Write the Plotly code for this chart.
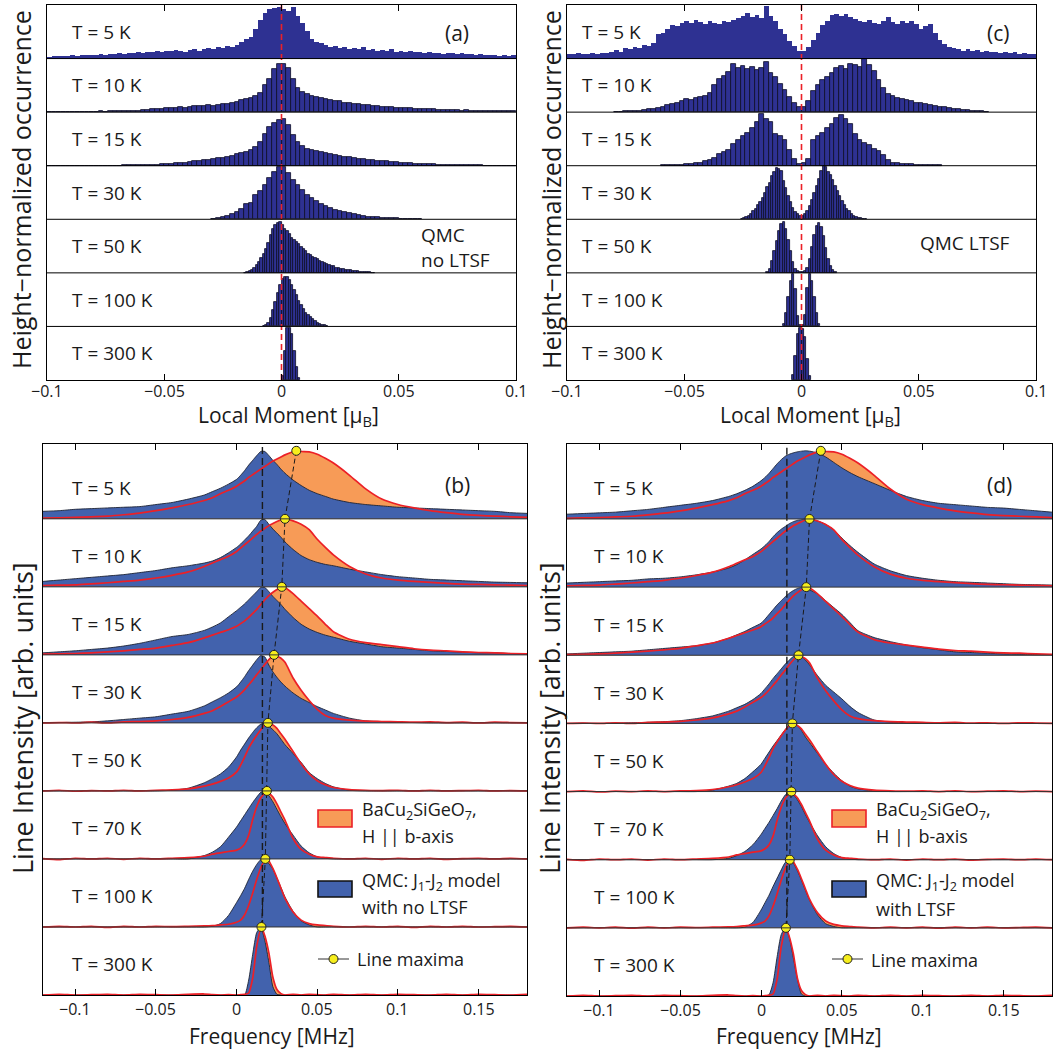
import plotly.graph_objects as go

FIG_W, FIG_H = 1061, 1053
FONT = "Open Sans"
TXT = "#1a1a1a"
NAVY = "#2e3192"
BAR_EDGE = "#0c0c26"
BLUE = "#4262ad"
BLUE_EDGE = "#1e2433"
ORANGE = "#f79b57"
RED = "#ec2027"
YELLOW = "#f6ee1d"

# ---------------- data ----------------
TOP_TEMPS = ["T = 5 K", "T = 10 K", "T = 15 K", "T = 30 K", "T = 50 K", "T = 100 K", "T = 300 K"]
BOT_TEMPS = ["T = 5 K", "T = 10 K", "T = 15 K", "T = 30 K", "T = 50 K", "T = 70 K", "T = 100 K", "T = 300 K"]
TOP_TICKS = [-0.1, -0.05, 0, 0.05, 0.1]
BOT_TICKS = [-0.1, -0.05, 0, 0.05, 0.1, 0.15]

# local-moment histograms, QMC without LTSF: first bin edge, bin width, heights
A_START = [-0.1, -0.1, -0.1, -0.03, -0.016, -0.008, 0.0]
A_WIDTH = [0.002, 0.002, 0.002, 0.002, 0.001, 0.001, 0.001]
a_5K = [0.03, 0.04, 0.05, 0.04, 0.05, 0.06, 0.05, 0.06, 0.07, 0.06,
        0.07, 0.08, 0.07, 0.09, 0.08, 0.10, 0.09, 0.11, 0.10, 0.12,
        0.11, 0.13, 0.12, 0.14, 0.13, 0.15, 0.14, 0.16, 0.15, 0.13,
        0.16, 0.18, 0.15, 0.17, 0.20, 0.18, 0.21, 0.19, 0.24, 0.22,
        0.26, 0.31, 0.37, 0.40, 0.56, 0.72, 0.85, 0.92, 0.94, 0.97,
        0.93, 0.88, 0.96, 0.80, 0.66, 0.52, 0.36, 0.31, 0.29, 0.25,
        0.22, 0.24, 0.19, 0.21, 0.18, 0.20, 0.17, 0.22, 0.16, 0.18,
        0.15, 0.16, 0.14, 0.17, 0.13, 0.14, 0.12, 0.15, 0.13, 0.12,
        0.11, 0.12, 0.10, 0.11, 0.09, 0.10, 0.11, 0.09, 0.10, 0.08,
        0.09, 0.07, 0.08, 0.06, 0.07, 0.06, 0.05, 0.06, 0.05, 0.06]
a_10K = [0, 0, 0, 0, 0, 0.005, 0.005, 0.01, 0.01, 0.01,
         0.01, 0.015, 0.01, 0.02, 0.015, 0.02, 0.02, 0.025, 0.02, 0.03,
         0.04, 0.035, 0.05, 0.06, 0.055, 0.07, 0.08, 0.075, 0.09, 0.085,
         0.10, 0.11, 0.12, 0.11, 0.13, 0.12, 0.14, 0.15, 0.16, 0.18,
         0.19, 0.22, 0.24, 0.26, 0.30, 0.36, 0.50, 0.62, 0.80, 0.90,
         0.90, 0.82, 0.62, 0.46, 0.38, 0.34, 0.31, 0.29, 0.27, 0.25,
         0.23, 0.21, 0.20, 0.18, 0.17, 0.16, 0.15, 0.14, 0.13, 0.12,
         0.11, 0.105, 0.10, 0.09, 0.085, 0.08, 0.07, 0.075, 0.065, 0.06,
         0.055, 0.05, 0.055, 0.045, 0.04, 0.045, 0.035, 0.04, 0.03, 0.035,
         0.03, 0.025, 0.03, 0.02, 0.025, 0.02, 0.015, 0.02, 0.015, 0.03]
a_15K = [0, 0, 0, 0, 0, 0, 0, 0, 0, 0,
         0, 0, 0, 0, 0, 0, 0.005, 0.005, 0.01, 0.01,
         0.01, 0.015, 0.02, 0.02, 0.03, 0.035, 0.04, 0.05, 0.055, 0.06,
         0.07, 0.08, 0.09, 0.10, 0.11, 0.12, 0.14, 0.15, 0.17, 0.19,
         0.21, 0.23, 0.26, 0.30, 0.35, 0.45, 0.60, 0.72, 0.80, 0.85,
         0.88, 0.76, 0.58, 0.45, 0.36, 0.32, 0.29, 0.27, 0.25, 0.23,
         0.22, 0.20, 0.18, 0.17, 0.16, 0.15, 0.13, 0.12, 0.11, 0.10,
         0.09, 0.085, 0.08, 0.07, 0.065, 0.06, 0.05, 0.045, 0.04, 0.035,
         0.03, 0.03, 0.025, 0.02, 0.02, 0.015, 0.015, 0.01, 0.01, 0.01,
         0.005, 0.005, 0.005, 0, 0, 0, 0, 0, 0, 0]
a_30K = [0.01, 0.02, 0.04, 0.07, 0.10, 0.13, 0.20, 0.28, 0.30, 0.45,
         0.52, 0.64, 0.78, 0.88, 0.98, 0.97, 0.86, 0.74, 0.64, 0.55,
         0.46, 0.40, 0.34, 0.28, 0.25, 0.21, 0.18, 0.16, 0.14, 0.12,
         0.10, 0.08, 0.07, 0.05, 0.04, 0.035, 0.03, 0.025, 0.02, 0.015,
         0.01, 0.01, 0.005, 0.005, 0.005]
a_50K = [0.005, 0.01, 0.03, 0.05, 0.09, 0.14, 0.20, 0.27, 0.35, 0.44,
         0.55, 0.70, 0.82, 0.90, 0.93, 0.95, 0.90, 0.82, 0.78, 0.72,
         0.66, 0.62, 0.58, 0.53, 0.48, 0.44, 0.40, 0.36, 0.33, 0.30,
         0.27, 0.25, 0.23, 0.20, 0.18, 0.16, 0.15, 0.13, 0.12, 0.10,
         0.09, 0.08, 0.07, 0.06, 0.05, 0.045, 0.04, 0.035, 0.03, 0.025,
         0.02, 0.015, 0.01, 0.01, 0.005, 0.005]
a_100K = [0.01, 0.03, 0.07, 0.15, 0.30, 0.45, 0.62, 0.78, 0.88, 0.93,
          0.92, 0.86, 0.78, 0.68, 0.58, 0.48, 0.40, 0.32, 0.26, 0.21,
          0.17, 0.13, 0.10, 0.07, 0.05, 0.035, 0.02, 0.01]
a_300K = [0.08, 0.55, 0.97, 0.97, 0.85, 0.55, 0.25, 0.03]
A_ROWS = [a_5K, a_10K, a_15K, a_30K, a_50K, a_100K, a_300K]

# local-moment histograms, QMC with LTSF
C_START = [-0.1, -0.08, -0.06, -0.026, -0.015, -0.008, -0.004]
C_WIDTH = [0.002, 0.002, 0.002, 0.001, 0.001, 0.001, 0.001]
c_5K = [0.09, 0.08, 0.10, 0.09, 0.08, 0.10, 0.09, 0.11, 0.10, 0.12,
        0.16, 0.13, 0.19, 0.17, 0.22, 0.20, 0.25, 0.23, 0.30, 0.45,
        0.47, 0.55, 0.62, 0.60, 0.67, 0.70, 0.66, 0.72, 0.69, 0.64,
        0.70, 0.66, 0.64, 0.70, 0.68, 0.72, 0.75, 0.80, 0.85, 0.78,
        0.82, 0.76, 0.99, 0.80, 0.70, 0.55, 0.45, 0.33, 0.24, 0.15,
        0.14, 0.22, 0.35, 0.48, 0.62, 0.70, 0.82, 0.84, 0.80, 0.83,
        0.78, 0.74, 0.70, 0.68, 0.72, 0.66, 0.65, 0.70, 0.78, 0.68,
        0.65, 0.70, 0.66, 0.71, 0.64, 0.55, 0.60, 0.65, 0.48, 0.34,
        0.28, 0.22, 0.19, 0.18, 0.15, 0.17, 0.14, 0.16, 0.13, 0.15,
        0.12, 0.13, 0.11, 0.12, 0.10, 0.13, 0.09, 0.11, 0.08, 0.09]
c_10K = [0.01, 0.01, 0.02, 0.02, 0.03, 0.03, 0.04, 0.05, 0.06, 0.08,
         0.10, 0.14, 0.16, 0.18, 0.21, 0.24, 0.22, 0.26, 0.28, 0.30,
         0.35, 0.50, 0.62, 0.68, 0.75, 0.90, 0.82, 0.86, 0.80, 0.85,
         0.78, 0.82, 0.94, 0.74, 0.66, 0.52, 0.42, 0.28, 0.18, 0.10,
         0.09, 0.20, 0.40, 0.50, 0.60, 0.66, 0.74, 0.82, 0.86, 0.80,
         0.90, 0.88, 0.84, 1.00, 0.88, 0.76, 0.60, 0.45, 0.34, 0.30,
         0.26, 0.24, 0.22, 0.20, 0.18, 0.17, 0.15, 0.13, 0.11, 0.10,
         0.09, 0.07, 0.06, 0.05, 0.04, 0.04, 0.03, 0.02, 0.02, 0.01]
c_15K = [0.005, 0.01, 0.01, 0.02, 0.02, 0.03, 0.04, 0.05, 0.06, 0.08,
         0.10, 0.14, 0.22, 0.25, 0.30, 0.40, 0.48, 0.55, 0.62, 0.70,
         0.82, 0.97, 0.88, 0.82, 0.60, 0.55, 0.48, 0.30, 0.12, 0.04,
         0.05, 0.12, 0.48, 0.56, 0.62, 0.70, 0.78, 0.90, 0.94, 0.88,
         0.78, 0.60, 0.48, 0.42, 0.38, 0.32, 0.28, 0.20, 0.10, 0.06,
         0.05, 0.04, 0.03, 0.03, 0.02, 0.02, 0.01, 0.01, 0.005, 0.005]
c_30K = [0.01, 0.02, 0.04, 0.07, 0.10, 0.15, 0.20, 0.26, 0.33, 0.40,
         0.50, 0.60, 0.68, 0.80, 0.88, 0.96, 0.94, 0.90, 0.72, 0.58,
         0.44, 0.32, 0.22, 0.14, 0.09, 0.06, 0.06, 0.10, 0.15, 0.25,
         0.36, 0.50, 0.62, 0.75, 0.90, 1.00, 0.97, 0.88, 0.82, 0.73,
         0.62, 0.52, 0.43, 0.35, 0.27, 0.20, 0.15, 0.10, 0.07, 0.05,
         0.03, 0.02, 0.01, 0.005]
c_50K = [0.02, 0.08, 0.22, 0.40, 0.60, 0.78, 0.92, 0.95, 0.82, 0.62,
         0.40, 0.20, 0.08, 0.03, 0.01, 0.01, 0.03, 0.10, 0.25, 0.48,
         0.70, 0.88, 0.93, 0.85, 0.68, 0.46, 0.26, 0.12, 0.05, 0.02]
c_100K = [0.04, 0.25, 0.55, 0.85, 0.98, 0.70, 0.20, 0.03,
          0.03, 0.22, 0.72, 0.98, 0.85, 0.55, 0.25, 0.04]
c_300K = [0.10, 0.45, 0.85, 0.97, 0.95, 0.80, 0.40, 0.08]
C_ROWS = [c_5K, c_10K, c_15K, c_30K, c_50K, c_100K, c_300K]

# NMR line shapes on a common frequency grid [MHz]
FREQ = [-0.12, -0.11, -0.10, -0.09, -0.08, -0.07, -0.06, -0.05, -0.04, -0.03, -0.02,
        -0.015, -0.01, -0.005, 0.0,
        0.0025, 0.005, 0.0075, 0.01, 0.0125, 0.015, 0.0175, 0.02, 0.0225, 0.025, 0.0275, 0.03,
        0.035, 0.04, 0.045, 0.05, 0.055, 0.06,
        0.07, 0.08, 0.09, 0.10, 0.11, 0.12, 0.13, 0.14, 0.15, 0.16, 0.17, 0.18]

# measured BaCu2SiGeO7, H || b-axis
exp_5K = [0.01, 0.015, 0.02, 0.03, 0.04, 0.06, 0.085, 0.12, 0.16, 0.21, 0.27,
          0.31, 0.37, 0.42, 0.48,
          0.52, 0.56, 0.61, 0.65, 0.69, 0.73, 0.77, 0.81, 0.85, 0.88, 0.91, 0.94,
          0.985, 0.99, 0.985, 0.95, 0.89, 0.82,
          0.64, 0.44, 0.29, 0.21, 0.16, 0.12, 0.09, 0.065, 0.05, 0.04, 0.03, 0.02]
exp_10K = [0.02, 0.025, 0.03, 0.045, 0.06, 0.08, 0.10, 0.13, 0.17, 0.22, 0.30,
           0.35, 0.40, 0.45, 0.52,
           0.57, 0.62, 0.67, 0.72, 0.77, 0.82, 0.86, 0.90, 0.93, 0.96, 0.985, 0.999,
           0.97, 0.92, 0.84, 0.70, 0.58, 0.47,
           0.30, 0.19, 0.13, 0.10, 0.08, 0.065, 0.05, 0.04, 0.035, 0.03, 0.025, 0.02]
exp_15K = [0.01, 0.015, 0.02, 0.03, 0.045, 0.06, 0.08, 0.10, 0.14, 0.18, 0.25,
           0.29, 0.33, 0.37, 0.42,
           0.46, 0.50, 0.55, 0.61, 0.67, 0.74, 0.81, 0.87, 0.92, 0.96, 0.995, 0.99,
           0.90, 0.79, 0.68, 0.57, 0.45, 0.34,
           0.23, 0.18, 0.15, 0.12, 0.09, 0.07, 0.06, 0.045, 0.035, 0.03, 0.02, 0.015]
exp_30K = [0.0, 0.005, 0.0, 0.01, 0.0, 0.015, 0.02, 0.03, 0.05, 0.08, 0.14,
           0.18, 0.24, 0.31, 0.38,
           0.43, 0.49, 0.56, 0.63, 0.71, 0.78, 0.86, 0.93, 0.99, 0.98, 0.95, 0.89,
           0.66, 0.48, 0.33, 0.20, 0.11, 0.07,
           0.04, 0.025, 0.02, 0.015, 0.01, 0.015, 0.005, 0.01, 0.0, 0.01, 0.005, 0.0]
exp_50K = [0.0, 0.01, -0.005, 0.005, 0.0, 0.01, 0.0, 0.01, 0.015, 0.03, 0.07,
           0.10, 0.14, 0.19, 0.28,
           0.38, 0.50, 0.63, 0.73, 0.82, 0.90, 0.97, 0.995, 0.97, 0.92, 0.84, 0.76,
           0.58, 0.40, 0.25, 0.15, 0.09, 0.05,
           0.02, 0.01, 0.005, 0.01, 0.0, 0.01, 0.0, 0.005, 0.01, 0.0, 0.005, 0.0]
exp_70K = [0.005, -0.01, 0.01, 0.0, 0.01, -0.005, 0.01, 0.0, 0.01, 0.02, 0.04,
           0.07, 0.09, 0.11, 0.13,
           0.16, 0.22, 0.35, 0.58, 0.77, 0.90, 0.97, 0.97, 0.91, 0.81, 0.69, 0.57,
           0.30, 0.14, 0.07, 0.03, 0.02, 0.01,
           0.0, 0.01, -0.005, 0.01, 0.0, 0.01, -0.005, 0.005, 0.01, 0.0, 0.01, 0.0]
exp_100K = [0.0, 0.01, 0.0, 0.01, -0.005, 0.01, 0.0, 0.01, 0.005, 0.01, 0.015,
            0.02, 0.03, 0.04, 0.07,
            0.10, 0.18, 0.32, 0.50, 0.70, 0.87, 0.99, 0.97, 0.86, 0.72, 0.57, 0.42,
            0.22, 0.10, 0.05, 0.03, 0.02, 0.01,
            0.0, 0.01, 0.0, 0.01, -0.005, 0.01, 0.0, 0.01, 0.0, 0.005, 0.01, 0.0]
exp_300K = [0.0, 0.01, 0.0, 0.005, 0.01, 0.0, 0.01, 0.005, 0.0, 0.01, 0.015,
            0.005, 0.0, 0.005, 0.0,
            0.005, 0.01, 0.03, 0.25, 0.72, 0.99, 0.87, 0.62, 0.26, 0.08, 0.02, 0.0,
            0.01, 0.0, 0.01, 0.005, 0.0, 0.01,
            0.0, 0.01, 0.0, 0.01, 0.005, 0.0, 0.01, 0.0, 0.01, 0.005, 0.0, 0.01]
EXP_ROWS = [exp_5K, exp_10K, exp_15K, exp_30K, exp_50K, exp_70K, exp_100K, exp_300K]

# QMC, J1-J2 model with no LTSF
qb_5K = [0.11, 0.12, 0.14, 0.15, 0.16, 0.17, 0.18, 0.21, 0.24, 0.29, 0.35,
         0.40, 0.45, 0.51, 0.58,
         0.64, 0.71, 0.79, 0.86, 0.93, 0.99, 0.99, 0.93, 0.86, 0.80, 0.73, 0.67,
         0.57, 0.49, 0.42, 0.37, 0.33, 0.29,
         0.24, 0.21, 0.19, 0.17, 0.16, 0.15, 0.14, 0.13, 0.12, 0.11, 0.09, 0.08]
qb_10K = [0.08, 0.10, 0.12, 0.14, 0.16, 0.18, 0.21, 0.24, 0.28, 0.31, 0.35,
          0.38, 0.43, 0.50, 0.58,
          0.63, 0.69, 0.75, 0.82, 0.89, 0.98, 0.99, 0.92, 0.85, 0.79, 0.73, 0.66,
          0.55, 0.46, 0.40, 0.36, 0.33, 0.31,
          0.26, 0.22, 0.18, 0.15, 0.13, 0.11, 0.10, 0.09, 0.08, 0.07, 0.065, 0.06]
qb_15K = [0.03, 0.045, 0.06, 0.08, 0.10, 0.13, 0.17, 0.22, 0.27, 0.30, 0.36,
          0.41, 0.47, 0.56, 0.65,
          0.70, 0.75, 0.81, 0.87, 0.93, 0.99, 0.99, 0.93, 0.86, 0.80, 0.74, 0.67,
          0.55, 0.45, 0.38, 0.33, 0.29, 0.26,
          0.20, 0.16, 0.12, 0.10, 0.08, 0.06, 0.05, 0.04, 0.03, 0.03, 0.02, 0.02]
qb_30K = [0.0, 0.005, 0.01, 0.015, 0.03, 0.05, 0.07, 0.09, 0.13, 0.17, 0.25,
          0.31, 0.37, 0.44, 0.53,
          0.60, 0.68, 0.77, 0.85, 0.93, 0.99, 0.97, 0.85, 0.75, 0.67, 0.60, 0.54,
          0.44, 0.36, 0.30, 0.24, 0.19, 0.14,
          0.07, 0.03, 0.02, 0.01, 0.005, 0.0, 0.0, 0.0, 0.0, 0.0, 0.0, 0.0]
qb_50K = [0.0, 0.0, 0.0, 0.0, 0.0, 0.0, 0.0, 0.0, 0.01, 0.04, 0.12,
          0.18, 0.25, 0.35, 0.50,
          0.60, 0.69, 0.78, 0.86, 0.93, 0.98, 0.99, 0.95, 0.90, 0.84, 0.76, 0.68,
          0.55, 0.42, 0.27, 0.18, 0.11, 0.06,
          0.01, 0.0, 0.0, 0.0, 0.0, 0.0, 0.0, 0.0, 0.0, 0.0, 0.0, 0.0]
qb_70K = [0.0, 0.0, 0.0, 0.0, 0.0, 0.0, 0.0, 0.0, 0.0, 0.0, 0.05,
          0.10, 0.18, 0.32, 0.47,
          0.56, 0.65, 0.74, 0.83, 0.91, 0.98, 0.99, 0.93, 0.84, 0.73, 0.62, 0.52,
          0.35, 0.19, 0.09, 0.03, 0.01, 0.0,
          0.0, 0.0, 0.0, 0.0, 0.0, 0.0, 0.0, 0.0, 0.0, 0.0, 0.0, 0.0]
qb_100K = [0.0, 0.0, 0.0, 0.0, 0.0, 0.0, 0.0, 0.0, 0.0, 0.0, 0.0,
           0.01, 0.05, 0.17, 0.36,
           0.46, 0.57, 0.70, 0.82, 0.92, 0.99, 0.99, 0.93, 0.85, 0.72, 0.58, 0.44,
           0.23, 0.09, 0.03, 0.0, 0.0, 0.0,
           0.0, 0.0, 0.0, 0.0, 0.0, 0.0, 0.0, 0.0, 0.0, 0.0, 0.0, 0.0]
qb_300K = [0.0, 0.0, 0.0, 0.0, 0.0, 0.0, 0.0, 0.0, 0.0, 0.0, 0.0,
           0.0, 0.0, 0.0, 0.0,
           0.0, 0.0, 0.22, 0.60, 0.92, 0.99, 0.80, 0.48, 0.12, 0.01, 0.0, 0.0,
           0.0, 0.0, 0.0, 0.0, 0.0, 0.0,
           0.0, 0.0, 0.0, 0.0, 0.0, 0.0, 0.0, 0.0, 0.0, 0.0, 0.0, 0.0]
QMC_NO_ROWS = [qb_5K, qb_10K, qb_15K, qb_30K, qb_50K, qb_70K, qb_100K, qb_300K]

# QMC, J1-J2 model with LTSF
qd_5K = [0.07, 0.08, 0.09, 0.10, 0.12, 0.14, 0.17, 0.20, 0.23, 0.27, 0.33,
         0.37, 0.42, 0.48, 0.56,
         0.61, 0.67, 0.74, 0.81, 0.87, 0.92, 0.95, 0.97, 0.985, 0.995, 1.0, 0.995,
         0.97, 0.91, 0.83, 0.75, 0.68, 0.62,
         0.52, 0.42, 0.33, 0.27, 0.23, 0.21, 0.19, 0.17, 0.16, 0.14, 0.12, 0.10]
qd_10K = [0.06, 0.07, 0.08, 0.09, 0.10, 0.12, 0.13, 0.15, 0.18, 0.22, 0.28,
          0.33, 0.40, 0.48, 0.56,
          0.61, 0.67, 0.74, 0.80, 0.85, 0.89, 0.93, 0.96, 0.98, 0.99, 1.0, 0.995,
          0.97, 0.92, 0.84, 0.72, 0.61, 0.51,
          0.34, 0.24, 0.17, 0.13, 0.10, 0.08, 0.07, 0.06, 0.05, 0.04, 0.035, 0.03]
qd_15K = [0.02, 0.03, 0.04, 0.05, 0.06, 0.08, 0.10, 0.12, 0.14, 0.18, 0.25,
          0.30, 0.35, 0.41, 0.47,
          0.53, 0.60, 0.67, 0.74, 0.80, 0.86, 0.91, 0.95, 0.98, 0.995, 0.99, 0.96,
          0.90, 0.80, 0.70, 0.60, 0.48, 0.36,
          0.26, 0.20, 0.15, 0.11, 0.08, 0.05, 0.04, 0.03, 0.02, 0.015, 0.01, 0.01]
qd_30K = [0.0, 0.005, 0.0, 0.005, 0.01, 0.015, 0.025, 0.04, 0.07, 0.11, 0.18,
          0.23, 0.28, 0.35, 0.44,
          0.51, 0.58, 0.66, 0.73, 0.80, 0.87, 0.93, 0.98, 0.995, 0.98, 0.93, 0.86,
          0.70, 0.56, 0.46, 0.36, 0.25, 0.16,
          0.05, 0.02, 0.01, 0.0, 0.0, 0.0, 0.0, 0.0, 0.0, 0.0, 0.0, 0.0]
qd_50K = [0.0, 0.0, 0.0, 0.0, 0.0, 0.0, 0.0, 0.0, 0.0, 0.02, 0.08,
          0.12, 0.19, 0.29, 0.40,
          0.49, 0.58, 0.67, 0.75, 0.83, 0.91, 0.97, 0.995, 0.97, 0.90, 0.80, 0.72,
          0.56, 0.40, 0.27, 0.16, 0.08, 0.04,
          0.01, 0.0, 0.0, 0.0, 0.0, 0.0, 0.0, 0.0, 0.0, 0.0, 0.0, 0.0]
qd_70K = [0.0, 0.0, 0.0, 0.0, 0.0, 0.0, 0.0, 0.0, 0.0, 0.0, 0.02,
          0.06, 0.12, 0.22, 0.37,
          0.46, 0.55, 0.65, 0.75, 0.86, 0.95, 0.995, 0.96, 0.88, 0.78, 0.66, 0.55,
          0.35, 0.19, 0.09, 0.03, 0.01, 0.0,
          0.0, 0.0, 0.0, 0.0, 0.0, 0.0, 0.0, 0.0, 0.0, 0.0, 0.0, 0.0]
qd_100K = [0.0, 0.0, 0.0, 0.0, 0.0, 0.0, 0.0, 0.0, 0.0, 0.0, 0.0,
           0.0, 0.01, 0.08, 0.26,
           0.37, 0.48, 0.61, 0.73, 0.85, 0.96, 0.99, 0.95, 0.84, 0.70, 0.55, 0.41,
           0.19, 0.06, 0.02, 0.0, 0.0, 0.0,
           0.0, 0.0, 0.0, 0.0, 0.0, 0.0, 0.0, 0.0, 0.0, 0.0, 0.0, 0.0]
qd_300K = [0.0, 0.0, 0.0, 0.0, 0.0, 0.0, 0.0, 0.0, 0.0, 0.0, 0.0,
           0.0, 0.0, 0.0, 0.0,
           0.0, 0.02, 0.20, 0.58, 0.90, 0.995, 0.86, 0.56, 0.25, 0.03, 0.0, 0.0,
           0.0, 0.0, 0.0, 0.0, 0.0, 0.0,
           0.0, 0.0, 0.0, 0.0, 0.0, 0.0, 0.0, 0.0, 0.0, 0.0, 0.0, 0.0]
QMC_LTSF_ROWS = [qd_5K, qd_10K, qd_15K, qd_30K, qd_50K, qd_70K, qd_100K, qd_300K]

# frequency of the measured line maxima (normalised height 1)
PEAK_X = [0.037, 0.030, 0.028, 0.0232, 0.0194, 0.0188, 0.0178, 0.0154]
QMC_MAX_X = 0.016


# ---------------- helpers ----------------
def fx(p):
    return p / FIG_W


def fy(p):
    return 1 - p / FIG_H


def tick_text(v):
    s = f"{abs(v):g}"
    return "\u2212" + s if v < 0 else s


def with_peak(xs, ys, xp):
    pts = [(x, y) for x, y in zip(xs, ys) if abs(x - xp) > 0.0008]
    pts.append((xp, 1.0))
    pts.sort()
    return [p[0] for p in pts], [p[1] for p in pts]


fig = go.Figure()

# panel boxes in pixels: left, top, right, bottom
BOX = {
    "a": (47, 5, 516, 380),
    "c": (567, 5, 1036, 380),
    "b": (43, 444, 527, 995),
    "d": (567, 444, 1052, 996),
}
AX = {"a": ("x", "y"), "c": ("x2", "y2"), "b": ("x3", "y3"), "d": ("x4", "y4")}
N_TOP = len(TOP_TEMPS)
N_BOT = len(BOT_TEMPS)
BOT_TOP = N_BOT + 0.1

# ---------- histogram panels ----------
for key, starts, widths, rows in (("a", A_START, A_WIDTH, A_ROWS),
                                  ("c", C_START, C_WIDTH, C_ROWS)):
    xa, ya = AX[key]
    for k, (s0, w, h) in enumerate(zip(starts, widths, rows)):
        base = N_TOP - 1 - k
        centers = [s0 + (i + 0.5) * w for i in range(len(h))]
        first = k == 0
        fig.add_trace(go.Bar(
            x=centers, y=h, base=base, width=w, xaxis=xa, yaxis=ya,
            marker=dict(color=NAVY,
                        line=dict(color=NAVY if first else BAR_EDGE,
                                  width=0 if first else 0.8)),
            hoverinfo="skip", showlegend=False))
    fig.add_trace(go.Scatter(
        x=[0, 0], y=[0, N_TOP], mode="lines", xaxis=xa, yaxis=ya,
        line=dict(color=RED, width=1.6, dash="6px,4px"),
        hoverinfo="skip", showlegend=False))

# ---------- line-shape panels ----------
for key, qrows in (("b", QMC_NO_ROWS), ("d", QMC_LTSF_ROWS)):
    xa, ya = AX[key]
    for k in range(N_BOT):
        base = N_BOT - 1 - k
        ex, ey = with_peak(FREQ, EXP_ROWS[k], PEAK_X[k])
        ey = [base + v for v in ey]
        qy = [base + v for v in qrows[k]]
        spl = dict(shape="spline", smoothing=0.6)
        common = dict(xaxis=xa, yaxis=ya, hoverinfo="skip", showlegend=False)
        # measured line, orange area
        fig.add_trace(go.Scatter(x=[FREQ[0], FREQ[-1]], y=[base, base], mode="lines",
                                 line=dict(width=0, color="rgba(0,0,0,0)"), **common))
        fig.add_trace(go.Scatter(x=ex, y=ey, mode="lines", fill="tonexty",
                                 fillcolor=ORANGE, line=dict(width=0, color=ORANGE, **spl),
                                 **common))
        # QMC line, blue area
        fig.add_trace(go.Scatter(x=[FREQ[0], FREQ[-1]], y=[base, base], mode="lines",
                                 line=dict(width=0, color="rgba(0,0,0,0)"), **common))
        fig.add_trace(go.Scatter(x=FREQ, y=qy, mode="lines", fill="tonexty",
                                 fillcolor=BLUE, line=dict(width=0.9, color=BLUE_EDGE, **spl),
                                 **common))
        # measured line, red outline
        fig.add_trace(go.Scatter(x=ex, y=ey, mode="lines",
                                 line=dict(width=1.7, color=RED, **spl), **common))
    # QMC maximum
    fig.add_trace(go.Scatter(x=[QMC_MAX_X, QMC_MAX_X], y=[1, BOT_TOP], mode="lines",
                             xaxis=xa, yaxis=ya,
                             line=dict(color="#1a1a1a", width=1.4, dash="7px,4px"),
                             hoverinfo="skip", showlegend=False))
    # measured maxima
    fig.add_trace(go.Scatter(x=PEAK_X, y=[N_BOT - k for k in range(N_BOT)],
                             mode="lines+markers", xaxis=xa, yaxis=ya,
                             line=dict(color="#1a1a1a", width=1, dash="5px,3px"),
                             marker=dict(size=9, color=YELLOW,
                                         line=dict(color="#222", width=1)),
                             hoverinfo="skip", showlegend=False))

# ---------- axes ----------
layout = dict(width=FIG_W, height=FIG_H,
              margin=dict(l=0, r=0, t=0, b=0, pad=0, autoexpand=False),
              paper_bgcolor="white", plot_bgcolor="white", showlegend=False,
              barmode="overlay", bargap=0, font=dict(family=FONT, color=TXT))
shapes = []
ann = []


def add_text(text, x, y, size=19, xanchor="left", angle=0, xref="paper", yref="paper"):
    ann.append(dict(text=text, x=x, y=y, xref=xref, yref=yref, xanchor=xanchor,
                    yanchor="middle", showarrow=False, textangle=angle,
                    font=dict(family=FONT, size=size, color=TXT)))


for i, key in enumerate(("a", "c", "b", "d")):
    l, t, r, b = BOX[key]
    suffix = "" if i == 0 else str(i + 1)
    top = key in ("a", "c")
    ticks = TOP_TICKS if top else BOT_TICKS
    layout["xaxis" + suffix] = dict(
        domain=[fx(l), fx(r)], range=[-0.1, 0.1] if top else [-0.12, 0.18],
        anchor="y" + suffix, tickmode="array", tickvals=ticks,
        showticklabels=False, ticks="inside", ticklen=6,
        tickwidth=1, tickcolor="black", mirror="ticks", showline=True,
        linecolor="black", linewidth=1, showgrid=False, zeroline=False,
        automargin=False)
    layout["yaxis" + suffix] = dict(
        domain=[fy(b), fy(t)], range=[0, N_TOP] if top else [0, BOT_TOP],
        anchor="x" + suffix, showline=True, mirror=True, linecolor="black",
        linewidth=1, showticklabels=False, ticks="", showgrid=False, zeroline=False,
        automargin=False)
    # tick labels below the frame
    for v in ticks:
        add_text(tick_text(v), v, fy(b + 11 if top else b + 14), size=16,
                 xanchor="center", xref="x" + suffix)
    n = N_TOP if top else N_BOT
    for j in range(1, n):
        shapes.append(dict(type="line", xref="x" + suffix + " domain", x0=0, x1=1,
                           yref="y" + suffix, y0=j, y1=j, layer="above",
                           line=dict(color="black" if top else "#333333", width=1)))

# legend glyphs
for lx in (318, 832):
    shapes.append(dict(type="rect", xref="paper", yref="paper",
                       x0=fx(lx), x1=fx(lx + 34), y0=fy(827), y1=fy(810),
                       fillcolor=ORANGE, line=dict(color=RED, width=1.6)))
    shapes.append(dict(type="rect", xref="paper", yref="paper",
                       x0=fx(lx), x1=fx(lx + 34), y0=fy(897), y1=fy(881),
                       fillcolor=BLUE, line=dict(color="#111", width=1.6)))
    shapes.append(dict(type="line", xref="paper", yref="paper",
                       x0=fx(lx), x1=fx(lx + 31), y0=fy(959), y1=fy(959),
                       line=dict(color="#333", width=1)))
    shapes.append(dict(type="circle", xref="paper", yref="paper",
                       x0=fx(lx + 11), x1=fx(lx + 20), y0=fy(963.5), y1=fy(954.5),
                       fillcolor=YELLOW, line=dict(color="#222", width=1)))
layout["shapes"] = shapes

for k, lab in enumerate(TOP_TEMPS):
    add_text(lab, fx(70), N_TOP - 1 - k + 0.5, yref="y")
    add_text(lab, fx(580), N_TOP - 1 - k + 0.5, yref="y2")
for k, lab in enumerate(BOT_TEMPS):
    add_text(lab, fx(70), N_BOT - 1 - k + 0.45, yref="y3")
    add_text(lab, fx(592), N_BOT - 1 - k + 0.45, yref="y4")

add_text("(a)", fx(457), fy(33), size=21, xanchor="center")
add_text("(c)", fx(998), fy(33), size=21, xanchor="center")
add_text("(b)", fx(457), fy(485), size=21, xanchor="center")
add_text("(d)", fx(999), fy(485), size=21, xanchor="center")
add_text("QMC", fx(419), fy(235))
add_text("no LTSF", fx(419), fy(260))
add_text("QMC LTSF", fx(918), fy(243))

for lx in (360, 874):
    add_text("BaCu<sub>2</sub>SiGeO<sub>7</sub>,", fx(lx), fy(810), size=18)
    add_text("H || b-axis", fx(lx), fy(836), size=18)
    add_text("QMC: J<sub>1</sub>-J<sub>2</sub> model", fx(lx), fy(881), size=18)
add_text("with no LTSF", fx(360), fy(907), size=18)
add_text("with LTSF", fx(874), fy(909), size=18)
add_text("Line maxima", fx(355), fy(959), size=18)
add_text("Line maxima", fx(869), fy(960), size=18)

add_text("Local Moment [\u03bc<sub>B</sub>]", fx(288), fy(416), size=21, xanchor="center")
add_text("Local Moment [\u03bc<sub>B</sub>]", fx(810), fy(416), size=21, xanchor="center")
add_text("Frequency [MHz]", fx(272), fy(1036), size=21, xanchor="center")
add_text("Frequency [MHz]", fx(799), fy(1036), size=21, xanchor="center")
add_text("Height\u2212normalized occurrence", fx(21), fy(190), size=25,
         xanchor="center", angle=-90)
add_text("Height\u2212normalized occurrence", fx(551), fy(190), size=25,
         xanchor="center", angle=-90)
add_text("Line Intensity [arb. units]", fx(22), fy(718), size=27,
         xanchor="center", angle=-90)
add_text("Line Intensity [arb. units]", fx(549), fy(718), size=27,
         xanchor="center", angle=-90)

layout["annotations"] = ann
fig.update_layout(**layout)
fig.write_html("out.html")
